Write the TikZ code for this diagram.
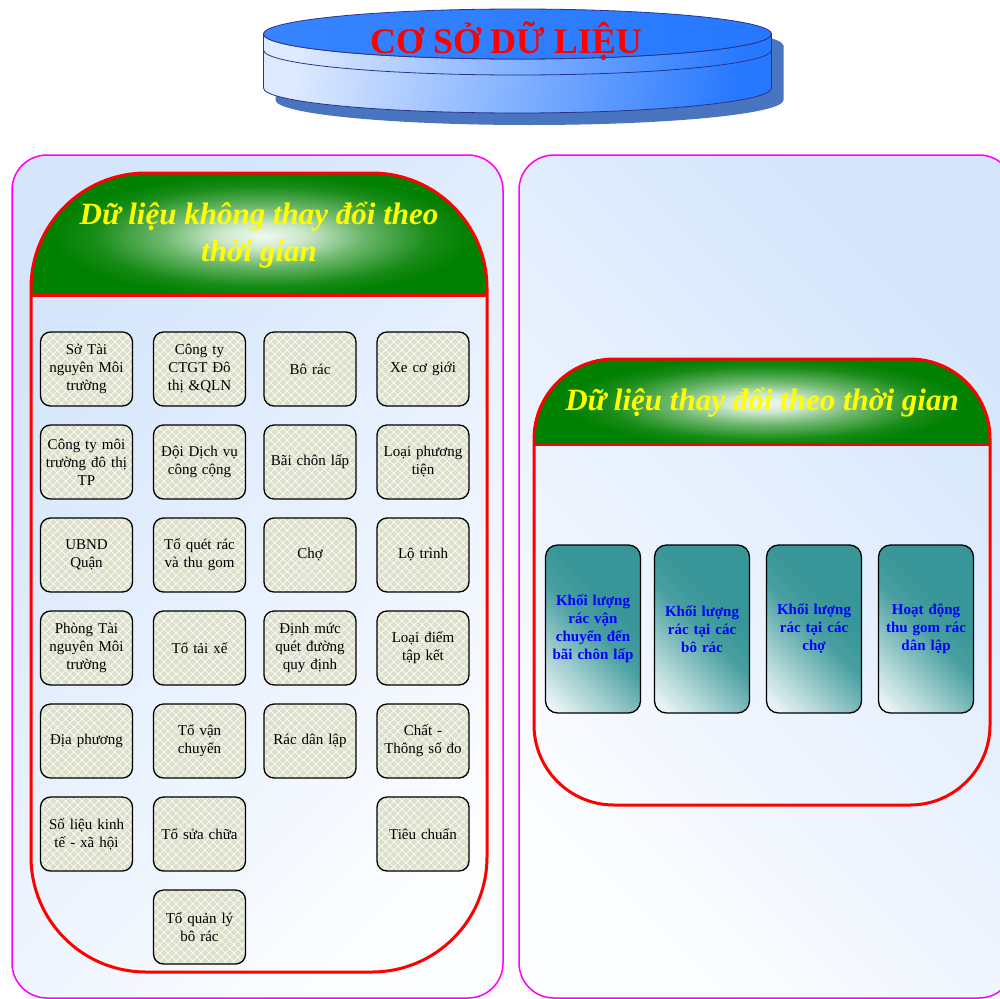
\documentclass[tikz,border=0pt]{standalone}
\usepackage{fontspec}
\setmainfont{Liberation Serif}
\usetikzlibrary{patterns.meta}
\definecolor{panelblue}{RGB}{212,229,252}
\definecolor{panelmag}{RGB}{255,0,255}
\definecolor{hdrgreen}{RGB}{0,128,0}
\definecolor{hdrlight}{RGB}{240,250,240}
\definecolor{boxfill}{RGB}{220,224,202}
\definecolor{tealc}{RGB}{56,150,152}
\definecolor{cylblue}{RGB}{38,120,255}
\definecolor{cyltop}{RGB}{55,132,255}
\definecolor{cyllight}{RGB}{222,234,255}
\definecolor{cylshadow}{RGB}{72,116,192}
\definecolor{cyledge}{RGB}{45,50,135}
\definecolor{hdryellow}{RGB}{255,255,0}
\definecolor{tealtext}{RGB}{0,0,255}
\pgfdeclareverticalshading{tealsh}{100bp}{color(0bp)=(white); color(18bp)=(white!90!tealc); color(34bp)=(tealc!50!white); color(50bp)=(tealc!92!white); color(62bp)=(tealc); color(100bp)=(tealc)}
\pgfdeclareradialshading{glow}{\pgfpoint{0bp}{0bp}}{color(0bp)=(hdrlight); color(5bp)=(hdrlight!85!hdrgreen); color(12bp)=(hdrgreen!55!hdrlight); color(20bp)=(hdrgreen!90!hdrlight); color(25bp)=(hdrgreen); color(50bp)=(hdrgreen)}
\tikzset{
  panel/.style={draw=panelmag, line width=1.5pt, rounded corners=35pt,
    top color=panelblue, middle color=panelblue!88!white, bottom color=white!92!panelblue},
  frame/.style={draw=red, line width=3pt},
  smallbox/.style={draw=black, line width=1.3pt, rounded corners=10pt,
    minimum width=92pt, minimum height=74pt, text width=88pt, align=center,
    inner sep=1pt, font=\fontsize{15}{18}\selectfont,
    preaction={fill=boxfill},
    preaction={pattern={Lines[angle=45,distance=5.8pt,line width=0.7pt]}, pattern color=white!92!boxfill},
    preaction={pattern={Lines[angle=-45,distance=5.8pt,line width=0.7pt]}, pattern color=white!92!boxfill}},
  tealbox/.style={draw=black, line width=1.3pt, rounded corners=12pt,
    shading=tealsh, shading angle=-45,
    minimum width=95pt, minimum height=168pt, text width=92pt, align=center,
    inner sep=1pt, text=tealtext, font=\fontsize{15}{18}\selectfont\bfseries},
  hdrtext/.style={text=hdryellow, font=\fontsize{31}{37}\selectfont\bfseries\itshape, align=center},
  cyl/.style={draw=cyledge, line width=0.8pt}
}
\begin{document}
\begin{tikzpicture}[x=1pt,y=-1pt]
\useasboundingbox (0,0) rectangle (1000,998);
\clip (0,0) rectangle (1000,998);
\fill[white] (0,0) rectangle (1000,998);

% ---------- database cylinder ----------
\fill[cylshadow] (529.5,46) ellipse[x radius=254, y radius=25];
\fill[cylshadow] (275.5,46) -- (275.5,100) arc[start angle=180,end angle=0,x radius=254,y radius=25] -- (783.5,46) -- cycle;
\path[cyl, left color=cyllight, middle color=cylblue!55!cyllight, right color=cylblue, shading angle=80]
  (263.5,34) -- (263.5,88) arc[start angle=180,end angle=0,x radius=254,y radius=25]
  -- (771.5,34) arc[start angle=0,end angle=180,x radius=254,y radius=25] -- cycle;
\path[cyl, left color=cyltop, right color=cylblue] (517.5,34) ellipse[x radius=254, y radius=25];
\draw[cyl] (263.5,50) arc[start angle=180,end angle=0,x radius=254,y radius=25];
\node[anchor=base, text=red, font=\fontsize{36}{40}\selectfont\bfseries] (title) at (506,54) {CƠ SỞ DỮ LIỆU};

% ---------- panels ----------
\path[panel, shading angle=45] (12,155) rectangle (503,998);
\path[panel, shading angle=-45] (519,155) rectangle (1014,998);

% ---------- left frame ----------
\begin{scope}
  \clip[rounded corners=115pt] (31,173) rectangle (487,972);
  \clip (31,173) rectangle (487,295);
  \fill[hdrgreen] (31,173) rectangle (487,295);
  \shade[shading=glow] (52,174) rectangle (472,298);
\end{scope}
\draw[frame, rounded corners=115pt] (31,173) rectangle (487,972);
\draw[frame] (31,295) -- (487,295);
\node[hdrtext] (lhdr) at (259,235) {Dữ liệu không thay đổi theo\\thời gian};

% ---------- right frame ----------
\begin{scope}
  \clip[rounded corners=80pt] (534,359) rectangle (990,805);
  \clip (534,359) rectangle (990,444);
  \fill[hdrgreen] (534,359) rectangle (990,444);
  \shade[shading=glow] (565,358) rectangle (965,448);
\end{scope}
\draw[frame, rounded corners=80pt] (534,359) rectangle (990,805);
\draw[frame] (534,444) -- (990,444);
\node[hdrtext, anchor=base] (rhdr) at (762,410) {Dữ liệu thay đổi theo thời gian};

% ---------- left boxes ----------
\node[smallbox] (a1) at (86.5,369) {Sở Tài\\nguyên Môi\\trường};
\node[smallbox] (a2) at (86.5,462) {Công ty môi\\trường đô thị\\TP};
\node[smallbox] (a3) at (86.5,555) {UBND\\Quận};
\node[smallbox] (a4) at (86.5,648) {Phòng Tài\\nguyên Môi\\trường};
\node[smallbox] (a5) at (86.5,741) {Địa phương};
\node[smallbox] (a6) at (86.5,834) {Số liệu kinh\\tế - xã hội};

\node[smallbox] (b1) at (199.5,369) {Công ty\\CTGT Đô\\thị \&QLN};
\node[smallbox] (b2) at (199.5,462) {Đội Dịch vụ\\công cộng};
\node[smallbox] (b3) at (199.5,555) {Tổ quét rác\\và thu gom};
\node[smallbox] (b4) at (199.5,648) {Tổ tải xế};
\node[smallbox] (b5) at (199.5,741) {Tổ vận\\chuyển};
\node[smallbox] (b6) at (199.5,834) {Tổ sửa chữa};
\node[smallbox] (b7) at (199.5,927) {Tổ quản lý\\bô rác};

\node[smallbox] (c1) at (310,369) {Bô rác};
\node[smallbox] (c2) at (310,462) {Bãi chôn lấp};
\node[smallbox] (c3) at (310,555) {Chợ};
\node[smallbox] (c4) at (310,648) {Định mức\\quét đường\\quy định};
\node[smallbox] (c5) at (310,741) {Rác dân lập};

\node[smallbox] (d1) at (423,369) {Xe cơ giới};
\node[smallbox] (d2) at (423,462) {Loại phương\\tiện};
\node[smallbox] (d3) at (423,555) {Lộ trình};
\node[smallbox] (d4) at (423,648) {Loại điểm\\tập kết};
\node[smallbox] (d5) at (423,741) {Chất -\\Thông số đo};
\node[smallbox] (d6) at (423,834) {Tiêu chuẩn};

% ---------- right boxes ----------
\node[tealbox] (t1) at (593,629) {Khối lượng\\rác vận\\chuyển đến\\bãi chôn lấp};
\node[tealbox] (t2) at (702,629) {Khối lượng\\rác tại các\\bô rác};
\node[tealbox] (t3) at (814,629) {Khối lượng\\rác tại các\\chợ};
\node[tealbox] (t4) at (926,629) {Hoạt động\\thu gom rác\\dân lập};
\end{tikzpicture}
\end{document}
